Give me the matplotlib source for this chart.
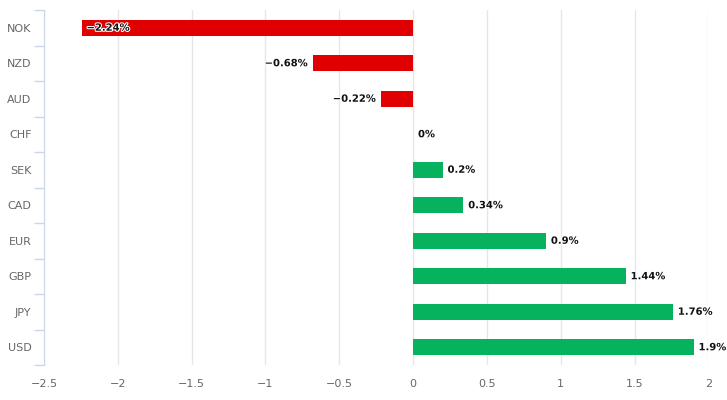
import matplotlib.pyplot as plt
import matplotlib.patheffects as pe
import numpy as np

currencies = ['NOK', 'NZD', 'AUD', 'CHF', 'SEK', 'CAD', 'EUR', 'GBP', 'JPY', 'USD']
changes = [-2.24, -0.68, -0.22, 0.0, 0.2, 0.34, 0.9, 1.44, 1.76, 1.9]
labels = ['\u22122.24%', '\u22120.68%', '\u22120.22%', '0%', '0.2%', '0.34%', '0.9%', '1.44%', '1.76%', '1.9%']
xticks = [-2.5, -2, -1.5, -1, -0.5, 0, 0.5, 1, 1.5, 2]
xticklabels = ['\u22122.5', '\u22122', '\u22121.5', '\u22121', '\u22120.5', '0', '0.5', '1', '1.5', '2']

red = '#e00000'
green = '#07b25f'

fig = plt.figure(figsize=(7.27, 4.0), dpi=100)
ax = fig.add_axes([0.0605, 0.0875, 0.914, 0.8875])

y = np.arange(len(currencies))
colors = [red if v < 0 else green for v in changes]
ax.barh(y, changes, height=0.45, color=colors, zorder=3)

ax.set_xlim(-2.5, 2.0)
ax.set_ylim(len(currencies) - 0.5, -0.5)

outline = [pe.withStroke(linewidth=1.5, foreground='white')]
for yi, v, lab in zip(y, changes, labels):
    if v <= -1.5:
        off, ha = 3, 'left'
    elif v < 0:
        off, ha = -3.5, 'right'
    else:
        off, ha = 3.5, 'left'
    ax.annotate(lab, (v, yi), xytext=(off, 0), textcoords='offset points',
                ha=ha, va='center', fontsize=7.2, fontweight='bold',
                color='#111111', path_effects=outline, zorder=4,
                annotation_clip=False)

ax.set_xticks(xticks)
ax.set_xticklabels(xticklabels, fontsize=8, color='#666666')
ax.tick_params(axis='x', length=0, pad=10)
ax.xaxis.grid(True, color='#e6e6e6', linewidth=1, zorder=0)

ax.set_yticks(y)
ax.set_yticklabels(currencies, fontsize=8, color='#666666')
ax.tick_params(axis='y', which='major', length=0, pad=9)
ax.set_yticks(np.arange(-0.5, len(currencies), 1), minor=True)
ax.tick_params(axis='y', which='minor', length=7, color='#ccd6eb', width=1)

for side in ['top', 'right', 'bottom']:
    ax.spines[side].set_visible(False)
ax.spines['left'].set_color('#ccd6eb')

fig.savefig('out.png', dpi=100)
